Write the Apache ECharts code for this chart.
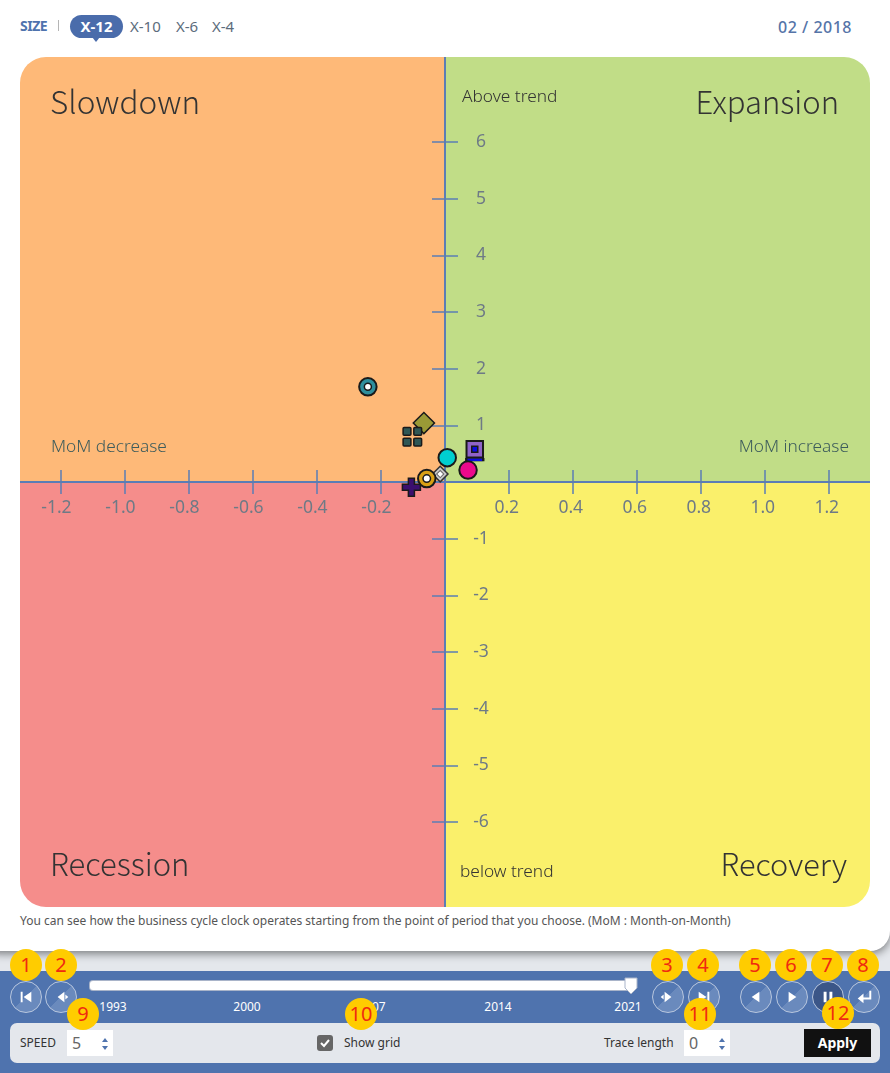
<!DOCTYPE html>
<html>
<head>
<meta charset="utf-8">
<title>Business cycle clock</title>
<script src="https://cdn.jsdelivr.net/npm/echarts@6/dist/echarts.min.js"></script>
<style>
  html, body { margin: 0; padding: 0; }
  body { width: 890px; height: 1073px; position: relative; overflow: hidden; background: #e4e7ec;
         font-family: "Noto Sans", "Open Sans", sans-serif; color: #333; }
  .abs { position: absolute; white-space: nowrap; }
  #card { left: -20px; top: -20px; width: 910px; height: 971px; background: #fff; border-radius: 20px;
          box-shadow: 0 3px 8px rgba(0,0,0,.45); }
  #chart { left: 20px; top: 57px; width: 850px; height: 850px; }
  #bar { left: 0; top: 971px; width: 890px; height: 102px; background: #4f73ae; }
  #panel { left: 10px; top: 1023px; width: 870px; height: 40px; background: #e4e7ec; border-radius: 7px; }
  #track { left: 90px; top: 981px; width: 541px; height: 9px; background: #fff; border-radius: 3px; box-shadow: 0 0 0 1px #a9b4c9; }
  .size { top: 16px; font-size: 15px; line-height: 20px; color: #5c6c7c; }
  #pill { left: 70px; top: 15px; width: 53px; height: 23px; background: #4a6cab; border-radius: 12px; color: #fff;
          font-size: 15px; font-weight: 700; line-height: 23px; text-align: center; }
  #pill:after { content: ""; position: absolute; left: 22px; top: 22px; border: 4px solid transparent; border-top: 5px solid #4a6cab; }
  .btn { width: 30px; height: 30px; top: 981px; border-radius: 50%; border: 1px solid #b9c7de;
         background: linear-gradient(135deg, #5478b2 50%, #6a8abd 50%); }
  .btn.on { background: #3b5688; }
  .btn svg { position: absolute; left: 0; top: 0; }
  .year { top: 998px; font-size: 12px; line-height: 18px; color: #fff; transform: translateX(-50%); }
  .badge { width: 32px; height: 32px; border-radius: 50%; background: #ffcc00; color: #f02a10; font-size: 20px;
           line-height: 32px; text-align: center; transform: translate(-50%, -50%); }
  .lab { top: 1034px; font-size: 12px; line-height: 18px; color: #333; }
  .num { top: 1030px; width: 46px; height: 26px; background: #fff; font-size: 16px; line-height: 26px; color: #666; text-indent: 5px; }
  .num i { position: absolute; right: 5px; width: 0; height: 0; border: 3px solid transparent; }
  .num .u { top: 5px; border-bottom: 4px solid #4f73ae; }
  .num .d { top: 16px; border-top: 4px solid #4f73ae; }
</style>
</head>
<body>
<div id="card" class="abs"></div>
<div class="abs" style="left:20px;top:16px;font-size:14px;line-height:20px;font-weight:700;color:#4f73ae;letter-spacing:-.5px">SIZE</div>
<div class="abs" style="left:58px;top:20px;width:1px;height:11px;background:#b5b5b5"></div>
<div id="pill" class="abs">X-12</div>
<div class="abs size" style="left:130px">X-10</div>
<div class="abs size" style="left:176px">X-6</div>
<div class="abs size" style="left:212px">X-4</div>
<div class="abs" style="right:38px;top:16px;font-size:16px;line-height:22px;font-weight:500;color:#5674a8;letter-spacing:.5px">02 / 2018</div>
<div id="chart" class="abs"></div>
<div class="abs" style="left:20px;top:912px;font-size:12px;line-height:18px;color:#555">You can see how the business cycle clock operates starting from the point of period that you choose. (MoM : Month-on-Month)</div>
<div id="bar" class="abs"></div>
<div id="track" class="abs"></div>
<svg class="abs" style="left:624px;top:977px" width="14" height="18"><path d="M1 1H13V11L7 17L1 11Z" fill="#fff" stroke="#a9b4c9"/></svg>
<div id="panel" class="abs"></div>
<div class="abs lab" style="left:20px">SPEED</div>
<div class="abs num" style="left:67px">5<i class="u"></i><i class="d"></i></div>
<div class="abs" style="left:317px;top:1035px;width:16px;height:16px;border-radius:3px;background:#666"></div>
<svg class="abs" style="left:317px;top:1035px" width="16" height="16"><path d="M4 8L7 11L12 5" fill="none" stroke="#fff" stroke-width="2"/></svg>
<div class="abs lab" style="left:344px">Show grid</div>
<div class="abs lab" style="left:604px">Trace length</div>
<div class="abs num" style="left:684px">0<i class="u"></i><i class="d"></i></div>
<div class="abs" style="left:804px;top:1029px;width:67px;height:28px;background:#111;color:#fff;font-size:14px;font-weight:700;line-height:28px;text-align:center">Apply</div>
<script>
// axis
var xTicks = [-1.2, -1.0, -0.8, -0.6, -0.4, -0.2, 0.2, 0.4, 0.6, 0.8, 1.0, 1.2];
var yTicks = [-6, -5, -4, -3, -2, -1, 1, 2, 3, 4, 5, 6];
var xRange = [-1.328, 1.328];
var yRange = [-7.5, 7.5];

// quadrant backgrounds
var quadrantNames = ['Slowdown', 'Expansion', 'Recession', 'Recovery'];
var quadrantX = [[-1.328, 0], [0, 1.328], [-1.328, 0], [0, 1.328]];
var quadrantY = [[0, 7.5], [0, 7.5], [-7.5, 0], [-7.5, 0]];
var quadrantColors = ['#feb978', '#c1dd87', '#f58d8b', '#faf06b'];

// clock points, drawn in this order
var pTeal = [-0.241, 1.68];
var pOlive = [-0.066, 1.04];
var pSquares = [-0.102, 0.80];
var pPurple = [0.093, 0.58];
var pWhite = [-0.015, 0.14];
var pPlus = [-0.105, -0.094];
var pOrange = [-0.057, 0.06];
var pCyan = [0.007, 0.43];
var pPink = [0.072, 0.21];

// footer controls
var years = ['1993', '2000', '2007', '2014', '2021'];
var yearLeft = [113, 247, 372, 498, 628];
var btnLeft = [26, 61, 668, 704, 756, 792, 828, 864];
var btnIcons = [
  '<path d="M10 10H12V21H10Z M21 10V21L13 15.5Z" fill="#fff"/>',
  '<path d="M19 10V21L12 15.5Z M20 13V18L23 15.5Z" fill="#fff"/>',
  '<path d="M12 10V21L19 15.5Z M11 13V18L8 15.5Z" fill="#fff"/>',
  '<path d="M10 10V21L18 15.5Z M19 10H21V21H19Z" fill="#fff"/>',
  '<path d="M19 10V21L11 15.5Z" fill="#fff"/>',
  '<path d="M12 10V21L20 15.5Z" fill="#fff"/>',
  '<path d="M11 10H14V21H11Z M17 10H20V21H17Z" fill="#fff"/>',
  '<path d="M22 9V17H14" fill="none" stroke="#fff" stroke-width="2"/><path d="M9 17L15 12V22Z" fill="#fff"/>'
];
var badgeText = ['1', '2', '3', '4', '5', '6', '7', '8', '9', '10', '11', '12'];
var badgeX = [26, 61, 667, 703, 755, 791, 827, 863, 83, 361, 700, 838];
var badgeY = [965, 965, 965, 965, 965, 965, 965, 965, 1014, 1014, 1014, 1013];

function addHtml(html) {
  document.body.insertAdjacentHTML('beforeend', html);
}
years.forEach(function (y, i) {
  addHtml('<div class="abs year" style="left:' + yearLeft[i] + 'px">' + y + '</div>');
});
btnLeft.forEach(function (x, i) {
  addHtml('<div class="abs btn' + (i === 6 ? ' on' : '') + '" style="left:' + (x - 16) + 'px"><svg width="30" height="30" viewBox="0 0 31 31">' + btnIcons[i] + '</svg></div>');
});
badgeText.forEach(function (t, i) {
  addHtml('<div class="abs badge" style="left:' + badgeX[i] + 'px;top:' + badgeY[i] + 'px">' + t + '</div>');
});

var AXIS = '#5b7db5';
var LABEL = '#6e7a86';
var EDGE = '#1a1a1a';
var SQUARES = 'path://M1 0H7Q8 0 8 1V7Q8 8 7 8H1Q0 8 0 7V1Q0 0 1 0Z M12 0H18Q19 0 19 1V7Q19 8 18 8H12Q11 8 11 7V1Q11 0 12 0Z M1 11H7Q8 11 8 12V18Q8 19 7 19H1Q0 19 0 18V12Q0 11 1 11Z M12 11H18Q19 11 19 12V18Q19 19 18 19H12Q11 19 11 18V12Q11 11 12 11Z';
var PLUS = 'path://M6 0H12V6H18V12H12V18H6V12H0V6H6Z';

function dot(point, symbol, size, color, border, width, rotate, offset) {
  return {
    type: 'scatter',
    data: [point],
    symbol: symbol,
    symbolSize: size,
    symbolRotate: rotate || 0,
    symbolOffset: offset || [0, 0],
    z: 10,
    silent: true,
    itemStyle: { color: color, opacity: 1, borderColor: border || EDGE, borderWidth: width === undefined ? 2 : width }
  };
}

var chart = echarts.init(document.getElementById('chart'), null, { renderer: 'canvas' });

function corner(i) {
  var r = 26;
  return [[r, 0, 0, 0], [0, r, 0, 0], [0, 0, 0, r], [0, 0, r, 0]][i];
}

function text(x, y, str, size, align, color, font) {
  return { type: 'text', x: x, y: y, z: 4, silent: true,
    style: { text: str, fontSize: size, fontFamily: font || 'Noto Sans', fontWeight: 300, fill: color || '#333', align: align, verticalAlign: 'middle' } };
}

function valueAxis(extent, extra) {
  return Object.assign({
    type: 'value',
    min: extent[0],
    max: extent[1],
    z: 5,
    splitLine: { show: false },
    axisLine: { show: true, onZero: true, lineStyle: { color: AXIS, width: 2 } }
  }, extra);
}

chart.setOption({
  animation: false,
  grid: { left: 0, right: 0, top: 0, bottom: 0, containLabel: false, outerBoundsMode: 'none' },
  xAxis: [
    // labels stay at the grid edge with onZero, so the margin pulls them back to the zero line
    valueAxis(xRange, {
      position: 'bottom',
      axisTick: { show: true, customValues: xTicks, length: 12, lineStyle: { color: AXIS, width: 1.5 } },
      axisLabel: { show: true, customValues: xTicks, margin: -408, color: LABEL, fontSize: 17.5, fontFamily: 'Noto Sans',
        formatter: function (v) { return v.toFixed(1) + (v < 0 ? '  ' : ' '); } }
    }),
    valueAxis(xRange, {
      position: 'bottom',
      axisTick: { show: true, inside: true, customValues: xTicks, length: 12, lineStyle: { color: AXIS, width: 1.5 } },
      axisLabel: { show: false }
    })
  ],
  yAxis: [
    valueAxis(yRange, {
      position: 'right',
      axisTick: { show: true, customValues: yTicks, length: 13, lineStyle: { color: AXIS, width: 1.5 } },
      axisLabel: { show: true, customValues: yTicks, margin: -389, padding: [2, 0, 0, 0], align: 'center', color: LABEL, fontSize: 17.5, fontFamily: 'Noto Sans' }
    }),
    valueAxis(yRange, {
      position: 'right',
      axisTick: { show: true, inside: true, customValues: yTicks, length: 13, lineStyle: { color: AXIS, width: 1.5 } },
      axisLabel: { show: false }
    })
  ],
  graphic: [
    text(30, 45, quadrantNames[0], 31.5, 'left', null, 'Noto Sans CJK KR'),
    text(819, 45, quadrantNames[1], 31, 'right', null, 'Noto Sans CJK KR'),
    text(30, 807, quadrantNames[2], 31, 'left', null, 'Noto Sans CJK KR'),
    text(827, 807, quadrantNames[3], 30.7, 'right', null, 'Noto Sans CJK KR'),
    text(442, 40, 'Above trend', 17.3, 'left'),
    text(440, 815, 'below trend', 17.3, 'left'),
    text(31, 390, 'MoM decrease', 17.3, 'left', '#3d5c5c'),
    text(829, 390, 'MoM increase', 17.3, 'right', '#3d5c5c')
  ],
  series: [
    {
      type: 'custom',
      z: 1,
      silent: true,
      clip: false,
      encode: { x: [0, 1], y: [2, 3] },
      data: quadrantNames.map(function (n, i) {
        return [quadrantX[i][0], quadrantX[i][1], quadrantY[i][0], quadrantY[i][1], i];
      }),
      renderItem: function (params, api) {
        var a = api.coord([api.value(0), api.value(3)]);
        var b = api.coord([api.value(1), api.value(2)]);
        var i = api.value(4);
        return {
          type: 'rect',
          shape: { x: a[0], y: a[1], width: b[0] - a[0], height: b[1] - a[1], r: corner(i) },
          style: { fill: quadrantColors[i] }
        };
      }
    },
    dot(pTeal, 'circle', 17.5, '#2f8f9d', EDGE, 2),
    dot(pTeal, 'circle', 7, '#fff', EDGE, 1.5),
    dot(pOlive, 'rect', 15, '#9a9a36', EDGE, 1.5, 45),
    dot(pSquares, SQUARES, 18.5, '#2f5755', EDGE, 1.5),
    dot(pPurple, 'rect', [17, 3], '#0a0ae0', EDGE, 1, 0, [0, 10.5]),
    dot(pPurple, 'rect', 16.5, '#8f63c8', EDGE, 2),
    dot(pPurple, 'rect', 6, '#0a0ae0', EDGE, 1.5),
    dot(pWhite, 'rect', 11, '#c9c9c9', '#333', 1.5, 45),
    dot(pWhite, 'rect', 5, '#fff', '#666', 1, 45),
    dot(pPlus, PLUS, 18, '#3b0f6e', EDGE, 1.5),
    dot(pOrange, 'circle', 17.5, '#d9a015', EDGE, 2),
    dot(pOrange, 'circle', 7.5, '#fff', EDGE, 1.5),
    dot(pCyan, 'circle', 17.5, '#00cfd0', EDGE, 2),
    dot(pPink, 'circle', 17.5, '#ec0a8c', EDGE, 2)
  ]
});
</script>
</body>
</html>
